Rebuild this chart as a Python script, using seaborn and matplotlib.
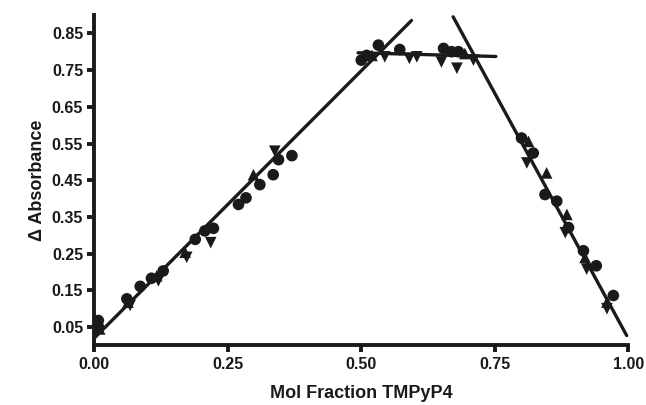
import matplotlib
matplotlib.use("Agg")
import matplotlib.pyplot as plt
import pandas as pd
import seaborn as sns

# continuous variation (Job plot) data
circle_x = [0.0075, 0.008, 0.061, 0.086, 0.107, 0.129, 0.189, 0.207, 0.223,
            0.270, 0.284, 0.310, 0.335, 0.345, 0.370,
            0.500, 0.510, 0.532, 0.572, 0.654, 0.669, 0.682,
            0.800, 0.822, 0.844, 0.866, 0.888, 0.916, 0.940, 0.972]
circle_y = [0.068, 0.050, 0.127, 0.161, 0.183, 0.203, 0.289, 0.312, 0.319,
            0.384, 0.402, 0.438, 0.465, 0.506, 0.517,
            0.777, 0.790, 0.818, 0.806, 0.809, 0.800, 0.800,
            0.565, 0.524, 0.411, 0.393, 0.321, 0.258, 0.217, 0.136]

up_x = [0.010, 0.063, 0.117, 0.170, 0.298, 0.520, 0.694, 0.813, 0.847, 0.885, 0.919, 0.960]
up_y = [0.045, 0.118, 0.190, 0.254, 0.465, 0.790, 0.795, 0.556, 0.470, 0.357, 0.240, 0.118]

down_x = [0.067, 0.120, 0.173, 0.218, 0.338, 0.544, 0.590, 0.604, 0.650, 0.679, 0.710,
          0.810, 0.882, 0.922, 0.960]
down_y = [0.109, 0.176, 0.240, 0.280, 0.529, 0.786, 0.782, 0.786, 0.772, 0.755, 0.777,
          0.497, 0.307, 0.208, 0.100]

# fitted straight lines (end points)
rise_x = [0.0, 0.594]
rise_y = [0.020, 0.885]
flat_x = [0.494, 0.752]
flat_y = [0.797, 0.787]
fall_x = [0.672, 0.997]
fall_y = [0.895, 0.027]

x_ticks = [0.00, 0.25, 0.50, 0.75, 1.00]
y_ticks = [0.05, 0.15, 0.25, 0.35, 0.45, 0.55, 0.65, 0.75, 0.85]

sns.set_theme(style="ticks")
plt.rcParams["font.family"] = ["Liberation Sans", "DejaVu Sans"]
plt.rcParams["font.weight"] = "bold"

fig = plt.figure(figsize=(6.46, 4.05), dpi=100)
ax = fig.add_axes([0.146, 0.147, 0.8266, 0.816])

# the three point sets
sets = [(circle_x, circle_y, "o", 70), (up_x, up_y, "^", 70), (down_x, down_y, "v", 70)]
for xs, ys, mk, sz in sets:
    df = pd.DataFrame({"x": xs, "y": ys})
    sns.scatterplot(data=df, x="x", y="y", marker=mk, s=sz, color="#1a1a1a",
                    edgecolor="none", ax=ax, clip_on=False, zorder=3)

# fitted lines
for xs, ys in [(rise_x, rise_y), (flat_x, flat_y), (fall_x, fall_y)]:
    sns.lineplot(x=xs, y=ys, color="#1a1a1a", lw=2.4, ax=ax, clip_on=False, zorder=4)

ax.set_xlim(0, 1.0)
ax.set_ylim(0, 0.9)
ax.set_xticks(x_ticks)
ax.set_xticklabels([f"{t:.2f}" for t in x_ticks])
ax.set_yticks(y_ticks)
ax.set_yticklabels([f"{t:.2f}" for t in y_ticks])

sns.despine(ax=ax)
for side in ["left", "bottom"]:
    ax.spines[side].set_linewidth(2.8)
    ax.spines[side].set_color("#1a1a1a")
ax.tick_params(axis="both", width=2.8, length=5, color="#1a1a1a",
               labelsize=11.5, labelcolor="#1a1a1a", pad=3)
for lbl in ax.get_xticklabels() + ax.get_yticklabels():
    lbl.set_fontweight("bold")

ax.set_xlabel("Mol Fraction TMPyP4", fontsize=13, fontweight="bold", color="#1a1a1a", labelpad=10)
ax.set_ylabel("Δ Absorbance", fontsize=13, fontweight="bold", color="#1a1a1a", labelpad=4)

fig.savefig("out.png", dpi=100)
plt.close(fig)
